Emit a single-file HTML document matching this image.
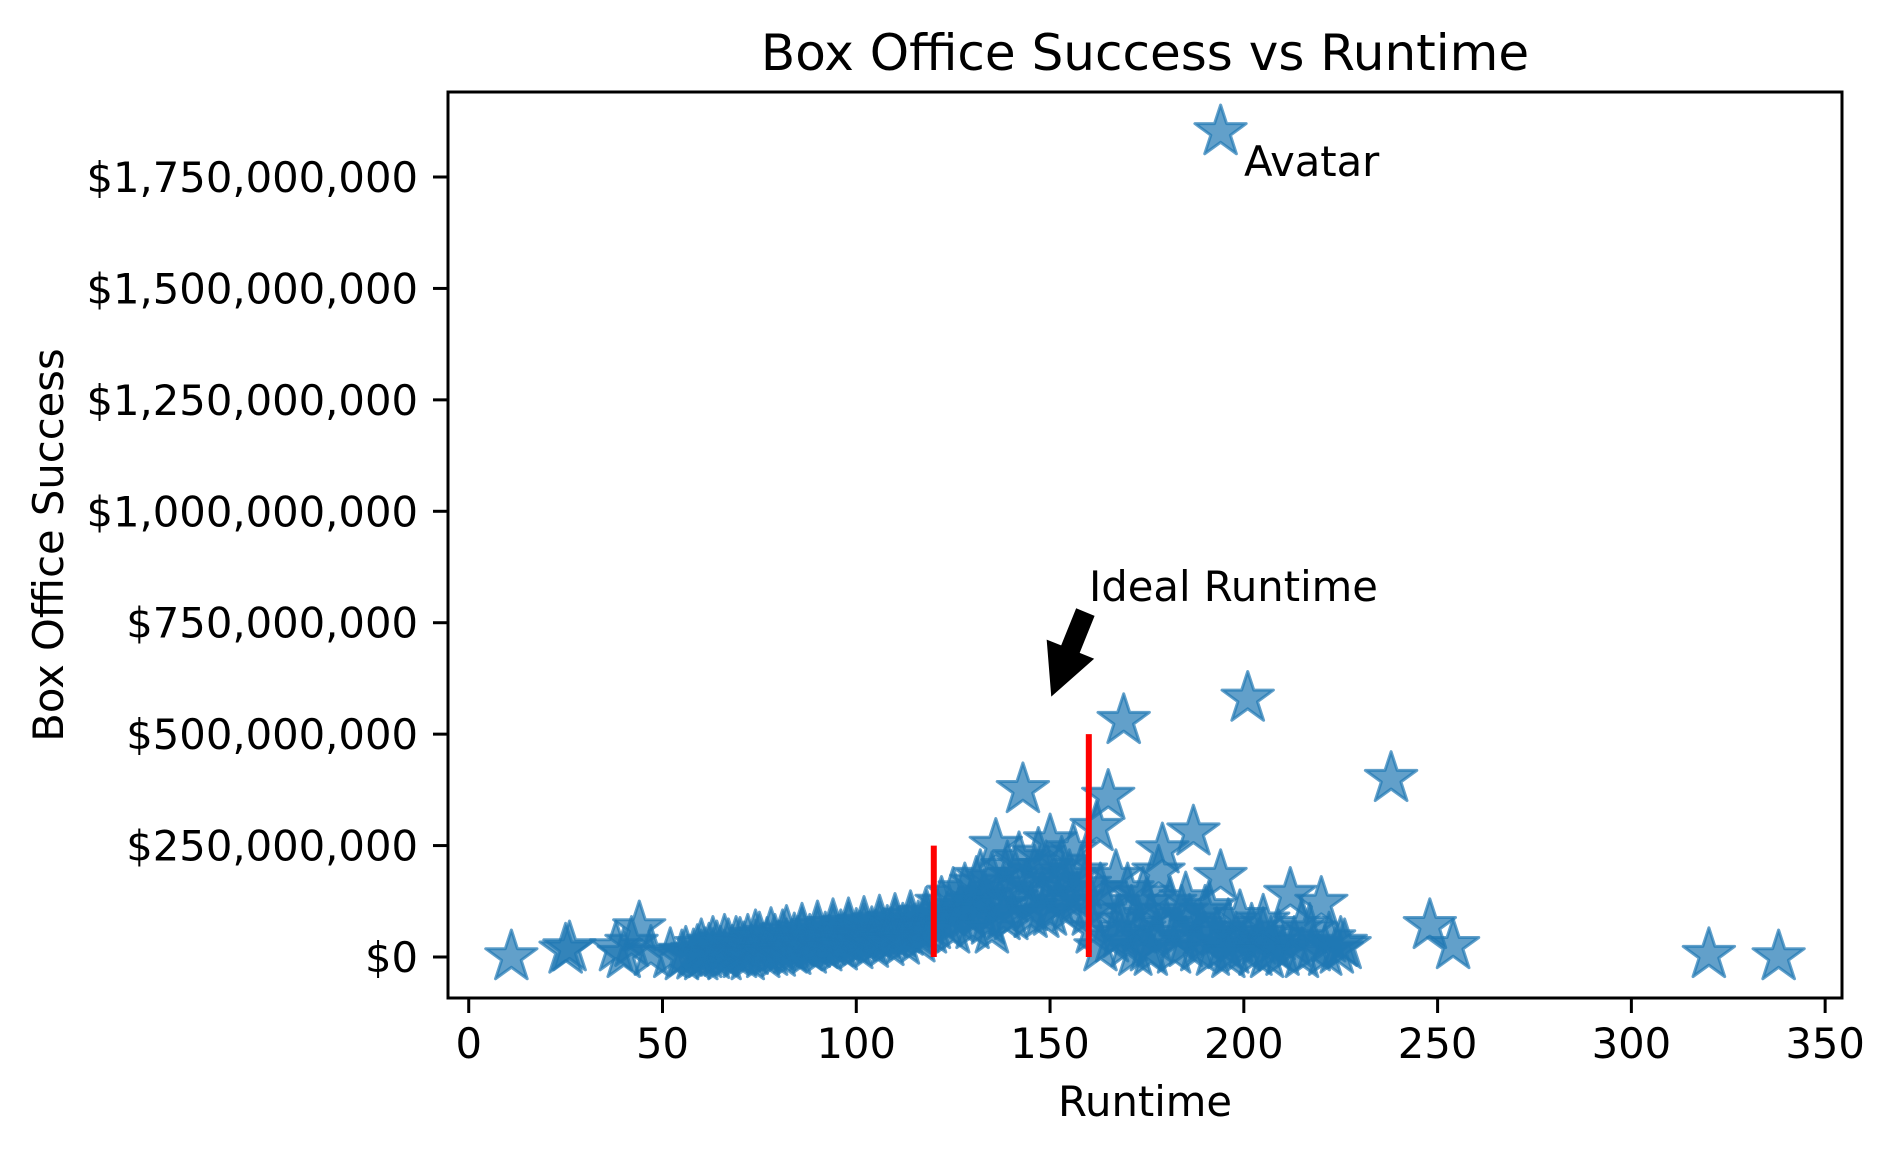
<!DOCTYPE html>
<html><head><meta charset="utf-8"><style>
html,body{margin:0;padding:0;background:#fff;}
svg{display:block;font-family:"DejaVu Sans","Liberation Sans",sans-serif;}
</style></head><body>
<svg id="chart" width="1895" height="1154" viewBox="0 0 1895 1154">
<rect width="1895" height="1154" fill="#fff"/>
<g id="marks"></g>
<g id="axes"></g>
</svg>
<script>
const runtimes = [11,25,26,38,40,42,44,47,
52,55,56,58,59,60,61,62,63,64,65,66,67,68,69,70,71,72,73,74,75,76,77,78,79,80,81,82,83,84,85,86,87,88,89,90,91,92,93,94,95,96,97,98,99,100,101,102,103,104,105,106,107,108,109,110,111,112,113,114,115,116,117,118,119,120,
60,63,66,70,74,78,82,86,90,94,98,102,106,110,114,118,72,76,80,84,88,92,96,100,104,108,112,116,
121,122,123,124,125,126,127,128,129,130,131,132,133,134,135,136,137,138,139,140,141,142,143,144,145,146,147,148,149,150,151,152,153,154,155,156,157,158,159,160,125,130,135,140,145,150,155,132,138,148,
161,162,163,164,165,166,167,168,169,170,171,172,173,174,175,176,177,178,179,180,181,182,183,184,185,186,187,188,189,190,191,192,193,194,195,196,197,198,199,200,201,202,203,204,205,206,207,208,209,210,212,213,215,217,218,220,221,222,224,225,226,163,170,175,185,190,168,176,196,205,215,
238,248,254,320,338,194];
const grossMillions = [0,15,20,20,5,30,65,10,
5,0,8,2,12,0,5,15,3,20,8,0,25,10,30,5,18,35,12,22,40,15,28,10,35,20,45,25,15,38,30,48,20,35,28,50,25,40,33,55,30,45,38,60,35,48,42,58,40,52,45,62,48,55,50,68,52,60,55,72,58,65,62,80,60,70,
25,30,35,28,45,50,55,60,65,70,72,75,78,82,88,95,0,5,8,12,15,20,22,25,28,32,35,40,
90,120,75,100,140,85,110,150,95,125,165,100,135,80,175,250,115,150,200,130,180,220,375,160,110,190,230,140,200,260,170,120,210,150,180,240,130,190,160,100,60,70,60,90,95,100,110,180,90,95,
60,290,20,120,360,40,180,80,530,30,100,10,60,140,20,90,40,190,240,70,120,15,50,100,30,80,280,20,60,40,110,10,50,180,25,70,15,40,90,20,580,60,10,35,50,5,30,20,45,10,140,30,5,60,20,120,10,40,15,30,25,150,150,120,130,100,50,10,5,80,70,
400,70,25,5,0,1851];
const xTicks = [0,50,100,150,200,250,300,350];
const yTicks = [0,250,500,750,1000,1250,1500,1750];
const refLineX = [120,160];
const refLineTop = [250,500];

const L=448,R=1842,T=92,B=998;
const xMin=-5.35,xMax=354.35;
const sx=v=>L+(v-xMin)/(xMax-xMin)*(R-L);
const sy=v=>957-v*0.44571;
const NS='http://www.w3.org/2000/svg';
function mk(tag,attrs,parent){const e=document.createElementNS(NS,tag);for(const k in attrs)e.setAttribute(k,attrs[k]);parent.appendChild(e);return e;}
const marks=document.getElementById('marks'), axes=document.getElementById('axes');
function fmt(m){if(m===0)return '$0';return '$'+(m*1e6).toLocaleString('en-US');}
function star(cx,cy,r){const p=[];for(let i=0;i<10;i++){const a=-Math.PI/2+i*Math.PI/5;const rr=i%2?r*0.381966:r;p.push((cx+rr*Math.cos(a)).toFixed(1)+','+(cy+rr*Math.sin(a)).toFixed(1));}return p.join(' ');}

for(let i=0;i<runtimes.length;i++){
  const s=mk('polygon',{points:star(sx(runtimes[i]),sy(grossMillions[i]),27),fill:'#1f77b4','fill-opacity':0.7,stroke:'#1f77b4','stroke-opacity':0.7,'stroke-width':3,'stroke-linejoin':'round'},marks);
  
  
}
for(let i=0;i<refLineX.length;i++){
  const l=mk('line',{x1:sx(refLineX[i]),x2:sx(refLineX[i]),y1:sy(0),y2:sy(refLineTop[i]),stroke:'#ff0000','stroke-width':6},marks);
  
  
}
const fr=mk('rect',{x:L,y:T,width:R-L,height:B-T,fill:'none',stroke:'#000','stroke-width':3},axes);


xTicks.forEach(t=>{
  const x=sx(t);
  const tk=mk('line',{x1:x,x2:x,y1:B,y2:B+15,stroke:'#000','stroke-width':3},axes);
  
  
  const tx=mk('text',{x:x,y:1058,'text-anchor':'middle','font-size':41.7,fill:'#000'},axes);
  tx.textContent=t;
  
  
});
yTicks.forEach(t=>{
  const y=sy(t);
  const tk=mk('line',{x1:L-15,x2:L,y1:y,y2:y,stroke:'#000','stroke-width':3},axes);
  
  
  const tx=mk('text',{x:418,y:y+15,'text-anchor':'end','font-size':41.7,fill:'#000'},axes);
  tx.textContent=fmt(t);
  
  
});
(function(){
  const tx=1085,ty=613,hx=sx(150)+2,hy=sy(600)+5;
  let dx=hx-tx,dy=hy-ty;const len=Math.hypot(dx,dy);dx/=len;dy/=len;const nx=-dy,ny=dx;
  const hl=48,sw=9,hw=24;const bx=hx-dx*hl,by=hy-dy*hl;
  const pts=[[tx+nx*sw,ty+ny*sw],[bx+nx*sw,by+ny*sw],[bx+nx*hw,by+ny*hw],[hx,hy],[bx-nx*hw,by-ny*hw],[bx-nx*sw,by-ny*sw],[tx-nx*sw,ty-ny*sw]];
  const a=mk('polygon',{points:pts.map(p=>p[0].toFixed(1)+','+p[1].toFixed(1)).join(' '),fill:'#000',stroke:'#000','stroke-width':2},axes);
  
  
})();
</script>
<div style="position:absolute;left:0;top:0;width:1895px;height:1154px;pointer-events:none;">
<svg width="1895" height="1154" style="font-family:'DejaVu Sans','Liberation Sans',sans-serif;">
<text x="1145" y="70" text-anchor="middle" font-size="50">Box Office Success vs Runtime</text>
<text x="1145" y="1116" text-anchor="middle" font-size="41.7">Runtime</text>
<text transform="translate(63,545) rotate(-90)" text-anchor="middle" font-size="41.7">Box Office Success</text>
<text x="1244" y="176" font-size="41.7">Avatar</text>
<text x="1089" y="601" font-size="41.7">Ideal Runtime</text>
</svg>
</div>
</body></html>
